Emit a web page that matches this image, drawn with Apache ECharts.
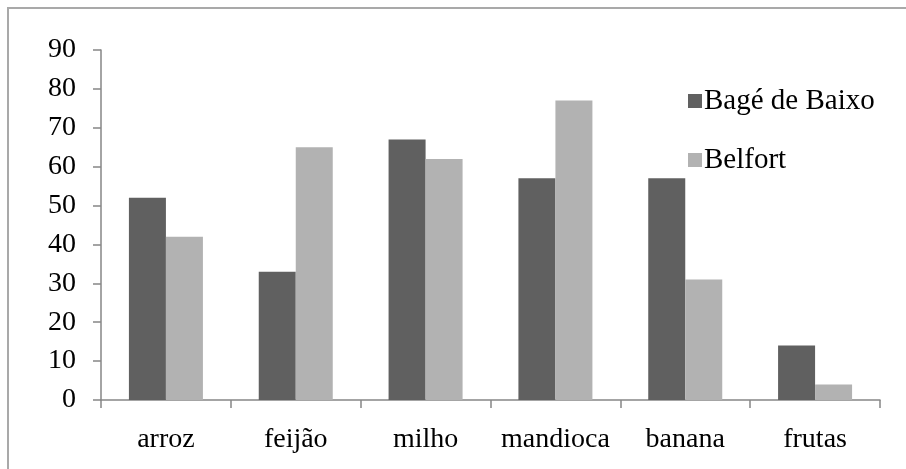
<!DOCTYPE html>
<html>
<head>
<meta charset="utf-8">
<style>
  html, body { margin: 0; padding: 0; background: #fff; }
  #chart { width: 906px; height: 469px; }
</style>
<script src="https://cdn.jsdelivr.net/npm/echarts@6/dist/echarts.min.js"></script>
</head>
<body>
<div id="chart"></div>
<script>
// Food items and the share reported in each community
const categories = ['arroz', 'feijão', 'milho', 'mandioca', 'banana', 'frutas'];
const bageDeBaixo = [52, 33, 67, 57, 57, 14];
const belfort = [42, 65, 62, 77, 31, 4];
const yTicks = { min: 0, max: 90, interval: 10 };

const FONT = '"Liberation Serif", "Times New Roman", serif';
const AXIS = '#868686';

const chart = echarts.init(document.getElementById('chart'), null, { renderer: 'canvas' });
chart.setOption({
  animation: false,
  backgroundColor: '#ffffff',
  textStyle: { fontFamily: FONT },
  graphic: [{
    type: 'rect',
    shape: { x: 8, y: 8, width: 920, height: 480 },
    style: { fill: 'none', stroke: '#a9a9a9', lineWidth: 2 },
    silent: true
  }],
  grid: { left: 101, right: 26, top: 50, bottom: 69 },
  legend: {
    orient: 'vertical',
    left: 683,
    top: 81,
    itemWidth: 14,
    itemHeight: 14,
    itemGap: 29,
    icon: 'rect',
    textStyle: { fontFamily: FONT, fontSize: 29, color: '#000', lineHeight: 30, padding: [0, 0, 0, -3] },
    data: ['Bagé de Baixo', 'Belfort']
  },
  xAxis: {
    type: 'category',
    data: categories,
    axisLine: { lineStyle: { color: AXIS, width: 1.5 } },
    axisTick: { show: true, length: 8, lineStyle: { color: AXIS, width: 1.5 } },
    axisLabel: { fontFamily: FONT, fontSize: 28, color: '#000', margin: 26, interval: 0 },
    splitLine: { show: false }
  },
  yAxis: {
    type: 'value',
    min: yTicks.min,
    max: yTicks.max,
    interval: yTicks.interval,
    axisLine: { show: true, lineStyle: { color: AXIS, width: 1.5 } },
    axisTick: { show: true, length: 8, lineStyle: { color: AXIS, width: 1.5 } },
    axisLabel: { fontFamily: FONT, fontSize: 28, color: '#000', margin: 25 },
    splitLine: { show: false }
  },
  series: [
    {
      name: 'Bagé de Baixo',
      type: 'bar',
      data: bageDeBaixo,
      barGap: '0%',
      barCategoryGap: '43%',
      itemStyle: { color: '#606060' }
    },
    {
      name: 'Belfort',
      type: 'bar',
      data: belfort,
      itemStyle: { color: '#b2b2b2' }
    }
  ]
});
</script>
</body>
</html>
